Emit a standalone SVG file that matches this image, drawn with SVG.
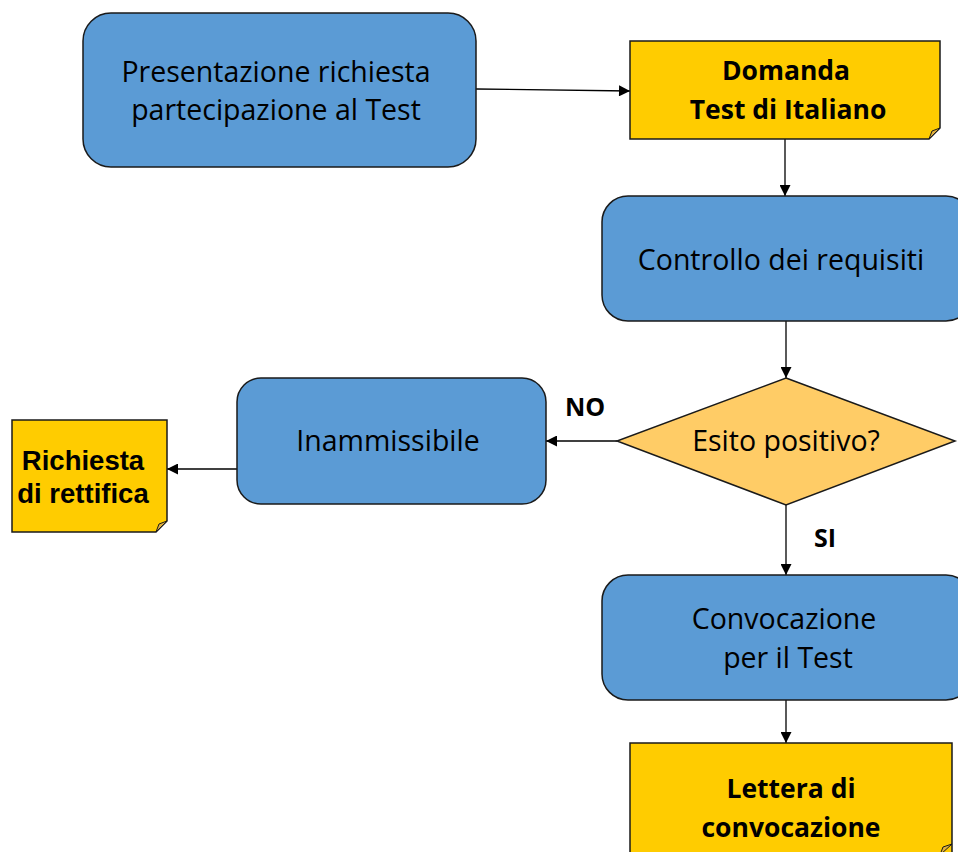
<svg xmlns="http://www.w3.org/2000/svg" width="958" height="852" viewBox="0 0 958 852">
<defs>
<marker id="ah" viewBox="0 0 10 10" refX="10" refY="5" markerWidth="12" markerHeight="11" markerUnits="userSpaceOnUse" orient="auto">
<path d="M0,0 L10,5 L0,10 z" fill="#000"/>
</marker>
</defs>
<style>
.proc{fill:#5B9BD5;stroke:#1a1a1a;stroke-width:1.5}
.doc{fill:#FFCC00;stroke:#1a1a1a;stroke-width:1.5}
.fold{fill:#E0B040;stroke:#1a1a1a;stroke-width:1}
.dec{fill:#FFCC66;stroke:#1a1a1a;stroke-width:1.5}
.t{font-family:"Open Sans","Liberation Sans",sans-serif;font-size:28.5px;fill:#000;text-anchor:middle}
.b{font-family:"Open Sans","Liberation Sans",sans-serif;font-size:26.5px;font-weight:bold;fill:#000;text-anchor:middle}
.a{font-family:"Liberation Sans",Arial,sans-serif;font-size:27.5px;font-weight:bold;fill:#000;text-anchor:middle}
.c{stroke:#000;stroke-width:1.3;fill:none;marker-end:url(#ah)}
</style>
<g id="connectors">
<path class="c" d="M476,89 L630,91"/>
<path class="c" d="M785,139 L785,196"/>
<path class="c" d="M786,321 L786,378"/>
<path class="c" d="M617,441 L546,441"/>
<path class="c" d="M237,469 L167,469"/>
<path class="c" d="M786,505 L786,575"/>
<path class="c" d="M786,700 L786,743"/>
<text class="b" x="585" y="416" style="font-size:25px">NO</text>
<text class="b" x="825" y="547" style="font-size:25px">SI</text>
</g>
<g id="n1">
<rect class="proc" x="83" y="13" width="393" height="154" rx="28"/>
<text class="t" x="276" y="82">Presentazione richiesta</text>
<text class="t" x="276" y="120">partecipazione al Test</text>
</g>
<g id="n2">
<path class="doc" d="M630,41 H940 V128 L929,139 H630 Z"/>
<path class="fold" d="M929,139 L932,131 L940,128 Z"/>
<text class="b" x="786" y="80">Domanda</text>
<text class="b" x="788" y="119">Test di Italiano</text>
</g>
<g id="n3">
<rect class="proc" x="602" y="196" width="370" height="125" rx="26"/>
<text class="t" x="781" y="270">Controllo dei requisiti</text>
</g>
<g id="n4">
<polygon class="dec" points="786,378 955,441 786,505 617,441"/>
<text class="t" x="786" y="451">Esito positivo?</text>
</g>
<g id="n5">
<rect class="proc" x="237" y="378" width="309" height="126" rx="24"/>
<text class="t" x="388" y="451">Inammissibile</text>
</g>
<g id="n6">
<path class="doc" d="M12,420 H167 V521 L156,532 H12 Z"/>
<path class="fold" d="M156,532 L159,524 L167,521 Z"/>
<text class="a" x="83" y="470">Richiesta</text>
<text class="a" x="83" y="503">di rettifica</text>
</g>
<g id="n7">
<rect class="proc" x="602" y="575" width="370" height="125" rx="26"/>
<text class="t" x="784" y="629">Convocazione</text>
<text class="t" x="788" y="668">per il Test</text>
</g>
<g id="n8">
<path class="doc" d="M630,743 H952 V855 H630 Z"/>
<path class="fold" d="M940,855 L943,847 L952,844 Z"/>
<text class="b" x="791" y="798">Lettera di</text>
<text class="b" x="791" y="837">convocazione</text>
</g>
</svg>
